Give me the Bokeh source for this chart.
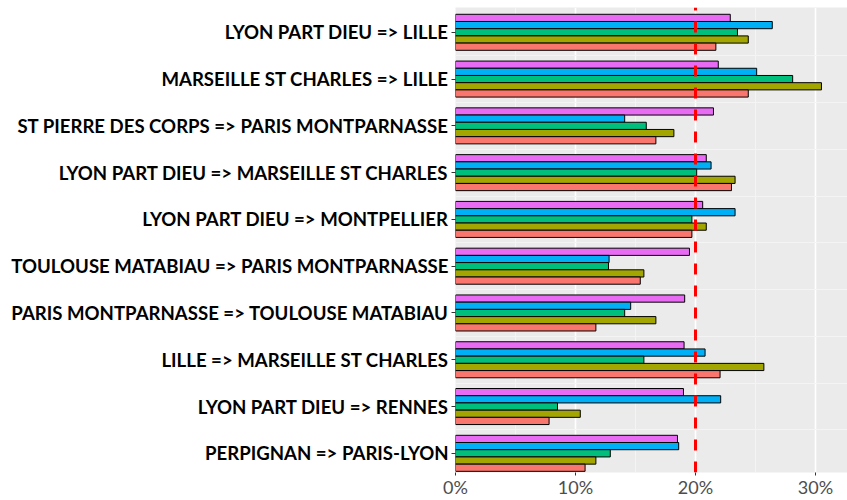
from bokeh.plotting import figure
from bokeh.models import FixedTicker, Range1d, ColumnDataSource
from bokeh.embed import file_html
from bokeh.resources import INLINE

# categories, top to bottom
routes = [
    "LYON PART DIEU => LILLE",
    "MARSEILLE ST CHARLES => LILLE",
    "ST PIERRE DES CORPS => PARIS MONTPARNASSE",
    "LYON PART DIEU => MARSEILLE ST CHARLES",
    "LYON PART DIEU => MONTPELLIER",
    "TOULOUSE MATABIAU => PARIS MONTPARNASSE",
    "PARIS MONTPARNASSE => TOULOUSE MATABIAU",
    "LILLE => MARSEILLE ST CHARLES",
    "LYON PART DIEU => RENNES",
    "PERPIGNAN => PARIS-LYON",
]

# series values (%), top bar to bottom bar within each group
s_pink = [22.9, 21.9, 21.5, 20.9, 20.6, 19.5, 19.1, 19.05, 19.0, 18.5]
s_blue = [26.4, 25.1, 14.1, 21.3, 23.3, 12.8, 14.6, 20.8, 22.1, 18.6]
s_green = [23.5, 28.1, 15.9, 20.1, 19.7, 12.75, 14.1, 15.7, 8.5, 12.9]
s_olive = [24.4, 30.5, 18.2, 23.3, 20.9, 15.7, 16.7, 25.7, 10.4, 11.7]
s_salmon = [21.7, 24.4, 16.7, 23.0, 19.7, 15.4, 11.7, 22.05, 7.8, 10.8]

x_ticks = [0, 10, 20, 30]
x_tick_labels = ["0%", "10%", "20%", "30%"]
threshold = 20

series = [s_pink, s_blue, s_green, s_olive, s_salmon]
colors = ["#E76BF3", "#00B0F6", "#00BF7D", "#A3A500", "#F8766D"]
offsets = [0.308, 0.154, 0.0, -0.154, -0.308]
bar_h = 0.154

n = len(routes)
ypos = [n - i for i in range(n)]

y_start, y_end = 0.59, 10.53

p = figure(width=847, height=500, output_backend="svg", toolbar_location=None,
           x_range=Range1d(0, 32.67), y_range=Range1d(y_start, y_end),
           min_border_left=455, min_border_right=0, min_border_top=7, min_border_bottom=23)
p.background_fill_color = "#EBEBEB"
p.border_fill_color = "white"
p.outline_line_color = None

for vals, col, off in zip(series, colors, offsets):
    src = ColumnDataSource(dict(y=[y + off for y in ypos], right=vals, left=[0] * n))
    p.hbar(y="y", left="left", right="right", height=bar_h, source=src,
           fill_color=col, line_color="black", line_width=1)

p.line(x=[threshold, threshold], y=[y_start, y_end], line_color="#FF0000",
       line_width=3, line_dash="11 11")

# x axis
p.xaxis.ticker = FixedTicker(ticks=x_ticks)
p.xaxis.major_label_overrides = {t: l for t, l in zip(x_ticks, x_tick_labels)}
p.xaxis.axis_line_color = None
p.xaxis.major_tick_out = 3
p.xaxis.major_tick_in = 0
p.xaxis.minor_tick_out = 0
p.xaxis.minor_tick_in = 0
p.xaxis.major_tick_line_color = "#333333"
p.xaxis.major_label_standoff = 0
p.xaxis.major_label_text_font = "Lato"
p.xaxis.major_label_text_font_size = "18px"
p.xaxis.major_label_text_color = "#4D4D4D"

# y axis
p.yaxis.ticker = FixedTicker(ticks=ypos)
p.yaxis.major_label_overrides = {y: r for y, r in zip(ypos, routes)}
p.yaxis.axis_line_color = None
p.yaxis.major_tick_out = 4
p.yaxis.major_tick_in = 0
p.yaxis.minor_tick_out = 0
p.yaxis.minor_tick_in = 0
p.yaxis.major_tick_line_color = "#333333"
p.yaxis.major_label_standoff = 3
p.yaxis.major_label_text_font = "Lato"
p.yaxis.major_label_text_font_style = "bold"
p.yaxis.major_label_text_font_size = "18.6px"
p.yaxis.major_label_text_color = "black"

# grids
p.xgrid.ticker = FixedTicker(ticks=x_ticks, minor_ticks=[5, 15, 25])
p.xgrid.grid_line_color = "white"
p.xgrid.grid_line_width = 1.6
p.xgrid.minor_grid_line_color = "#F4F4F4"
p.xgrid.minor_grid_line_width = 1
p.ygrid.ticker = FixedTicker(ticks=[y + 0.5 for y in ypos[1:]])
p.ygrid.grid_line_color = "#F4F4F4"
p.ygrid.grid_line_width = 1

open("out.html", "w").write(file_html(p, INLINE))
